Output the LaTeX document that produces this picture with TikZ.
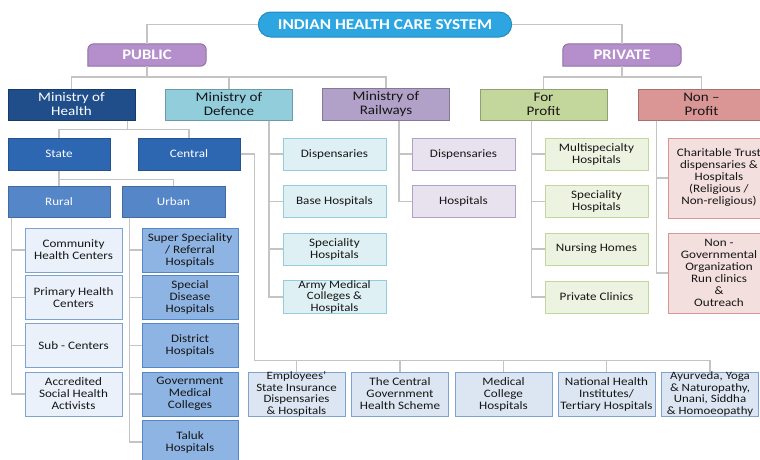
\documentclass[tikz,border=0pt]{standalone}
\usepackage{fontspec}
\setmainfont{Carlito}[FakeStretch=1.15]
\usepackage{tikz}
\usetikzlibrary{shapes.misc, positioning, backgrounds}
\definecolor{titleblue}{RGB}{44, 165, 224}
\definecolor{sectorpurple}{RGB}{181, 143, 203}
\definecolor{healthblue}{RGB}{31, 78, 138}
\definecolor{stateblue}{RGB}{45, 103, 178}
\definecolor{ruralblue}{RGB}{84, 134, 200}
\definecolor{urbanblue}{RGB}{142, 180, 227}
\definecolor{paleline}{RGB}{127, 163, 204}
\definecolor{paleblue}{RGB}{235, 241, 250}
\definecolor{centralblue}{RGB}{220, 230, 242}
\definecolor{defencecyan}{RGB}{146, 205, 220}
\definecolor{railwaylilac}{RGB}{177, 160, 199}
\definecolor{profitgreen}{RGB}{195, 214, 155}
\definecolor{nonprofitred}{RGB}{217, 150, 148}
\definecolor{linkgray}{RGB}{196, 196, 196}
\definecolor{textdark}{RGB}{22, 22, 22}

\begin{document}
\begin{tikzpicture}[
    x=1pt, y=-1pt,
    title/.style={rounded rectangle, draw=titleblue!85!black, fill=titleblue, line width=1pt, minimum width=260pt, minimum height=25pt, text=white, font=\fontsize{15}{16}\selectfont\bfseries},
    sector/.style={minimum width=118pt, minimum height=22pt, text=white, font=\fontsize{14.5}{16}\selectfont\bfseries},
    ministry/.style={draw=#1!75!black, fill=#1, line width=1pt, minimum width=127pt, minimum height=31pt, align=center, text=textdark, font=\fontsize{13.1}{14}\selectfont},
    level/.style={draw=#1!80!black, fill=#1, line width=1pt, minimum width=102pt, minimum height=32pt, text=white, font=\fontsize{11.4}{12}\selectfont},
    leaf/.style={draw=#1, fill=#1!30, line width=1pt, minimum width=103pt, minimum height=32pt, align=center, text=textdark, inner sep=1pt, font=\fontsize{11.4}{12}\selectfont},
    tall/.style={minimum width=97pt, minimum height=44pt},
    dense/.style={inner sep=0pt, font=\fontsize{11.2}{11.4}\selectfont},
    link/.style={draw=linkgray, line width=1.5pt}
]
    \useasboundingbox (0, 0) rectangle (760, 459);

    % Top
    \node[title] (system) at (385, 24.5) {INDIAN HEALTH CARE SYSTEM};
    \node[sector] (public) at (147, 55) {PUBLIC};
    \node[sector] (private) at (622, 55) {PRIVATE};
    \begin{scope}[on background layer]
    \foreach \s in {public, private}
        \filldraw[draw=sectorpurple!80!black, fill=sectorpurple, line width=1pt]
            (\s.south west) [rounded corners=6pt] -- (\s.north west) -- (\s.north east) -- (\s.south east) [sharp corners] -- cycle;
    \end{scope}

    % Ministries and sectors
    \node[ministry=healthblue, text=white] (moh) at (71.5, 104.5) {Ministry of\\Health};
    \node[ministry=defencecyan] (mod) at (229, 104.5) {Ministry of\\Defence};
    \node[ministry=railwaylilac] (mor) at (386, 104.5) {Ministry of\\Railways};
    \node[ministry=profitgreen] (forprofit) at (543.5, 104.5) {For\\Profit};
    \node[ministry=nonprofitred] (nonprofit) at (701.5, 104.5) {Non --\\Profit};

    % Ministry of Health
    \node[level=stateblue] (state) at (59, 154) {State};
    \node[level=stateblue] (central) at (189, 154) {Central};
    \node[level=ruralblue, minimum height=31pt] (rural) at (59, 201.5) {Rural};
    \node[level=ruralblue, minimum height=31pt, minimum width=103pt] (urban) at (173.5, 201.5) {Urban};

    \node[leaf=paleline, fill=paleblue, tall] (chc) at (73.5, 250) {Community\\Health Centers};
    \node[leaf=paleline, fill=paleblue, tall] (phc) at (73.5, 297.5) {Primary Health\\Centers};
    \node[leaf=paleline, fill=paleblue, tall] (subcenter) at (73.5, 345.5) {Sub - Centers};
    \node[leaf=paleline, fill=paleblue, tall] (asha) at (73.5, 394) {Accredited\\Social Health\\Activists};

    \node[leaf=ruralblue, fill=urbanblue, tall, minimum width=96pt] (referral) at (190, 250) {Super Speciality\\/ Referral\\Hospitals};
    \node[leaf=ruralblue, fill=urbanblue, tall, minimum width=96pt] (disease) at (190, 297.5) {Special\\Disease\\Hospitals};
    \node[leaf=ruralblue, fill=urbanblue, tall, minimum width=96pt] (district) at (190, 345.5) {District\\Hospitals};
    \node[leaf=ruralblue, fill=urbanblue, tall, minimum width=96pt] (govcollege) at (190, 394) {Government\\Medical\\Colleges};
    \node[leaf=ruralblue, fill=urbanblue, tall, minimum width=96pt] (taluk) at (190, 442) {Taluk\\Hospitals};

    \node[leaf=paleline, fill=centralblue, tall, dense] (esi) at (296.5, 394) {Employees'\\State Insurance\\Dispensaries\\\& Hospitals};
    \node[leaf=paleline, fill=centralblue, tall] (cghs) at (400, 394) {The Central\\Government\\Health Scheme};
    \node[leaf=paleline, fill=centralblue, tall] (medcollege) at (503.5, 394) {Medical\\College\\Hospitals};
    \node[leaf=paleline, fill=centralblue, tall] (institutes) at (606.5, 394) {National Health\\Institutes/\\Tertiary Hospitals};
    \node[leaf=paleline, fill=centralblue, tall, dense] (ayush) at (710, 394) {Ayurveda, Yoga\\\& Naturopathy,\\Unani, Siddha\\\& Homoeopathy};

    % Defence and Railways
    \node[leaf=defencecyan] (defdisp) at (334.5, 154) {Dispensaries};
    \node[leaf=defencecyan] (defbase) at (334.5, 201.5) {Base Hospitals};
    \node[leaf=defencecyan] (defspec) at (334.5, 249) {Speciality\\Hospitals};
    \node[leaf=defencecyan, dense] (defarmy) at (334.5, 297) {Army Medical\\Colleges \&\\Hospitals};
    \node[leaf=railwaylilac] (raildisp) at (463.5, 154) {Dispensaries};
    \node[leaf=railwaylilac] (railhosp) at (463.5, 201.5) {Hospitals};

    % Private
    \node[leaf=profitgreen] (multispec) at (596.5, 154) {Multispecialty\\Hospitals};
    \node[leaf=profitgreen] (privspec) at (596.5, 201.5) {Speciality\\Hospitals};
    \node[leaf=profitgreen] (nursing) at (596.5, 249) {Nursing Homes};
    \node[leaf=profitgreen] (clinics) at (596.5, 297) {Private Clinics};
    \node[leaf=nonprofitred, minimum width=102pt, minimum height=80pt] (trust) at (719, 178) {Charitable Trust\\dispensaries \&\\Hospitals\\(Religious /\\Non-religious)};
    \node[leaf=nonprofitred, minimum width=102pt, minimum height=80pt] (ngo) at (719, 273) {Non -\\Governmental\\Organization\\Run clinics\\\&\\Outreach};

    % Connections
    \draw[link] (system.west) -| (public.north);
    \draw[link] (system.east) -| (private.north);
    \foreach \m in {moh, mod, mor}
        \draw[link] (public.south) -- ++(0, 11) -| (\m.north);
    \foreach \m in {forprofit, nonprofit}
        \draw[link] (private.south) -- ++(0, 11) -| (\m.north);
    \foreach \m in {state, central}
        \draw[link] ([xshift=120pt]moh.south west) -- ++(0, 9) -| (\m.north);
    \foreach \m in {rural, urban}
        \draw[link] (state.south) -- ++(0, 9) -| (\m.north);
    \foreach \m in {chc, phc, subcenter, asha}
        \draw[link] ([xshift=4pt]rural.south west) |- (\m.west);
    \foreach \m in {referral, disease, district, govcollege, taluk}
        \draw[link] ([xshift=8pt]urban.south west) |- (\m.west);
    \foreach \m in {esi, cghs, medcollege, institutes, ayush}
        \draw[link] (central.east) -- ++(14, 0) |- ([yshift=11pt]\m.north) -- (\m.north);
    \foreach \m in {defdisp, defbase, defspec, defarmy}
        \draw[link] ([xshift=104pt]mod.south west) |- (\m.west);
    \foreach \m in {raildisp, railhosp}
        \draw[link] ([xshift=77pt]mor.south west) |- (\m.west);
    \foreach \m in {multispec, privspec, nursing, clinics}
        \draw[link] ([xshift=52pt]forprofit.south west) |- (\m.west);
    \foreach \m in {trust, ngo}
        \draw[link] ([xshift=19pt]nonprofit.south west) |- (\m.west);
\end{tikzpicture}
\end{document}
